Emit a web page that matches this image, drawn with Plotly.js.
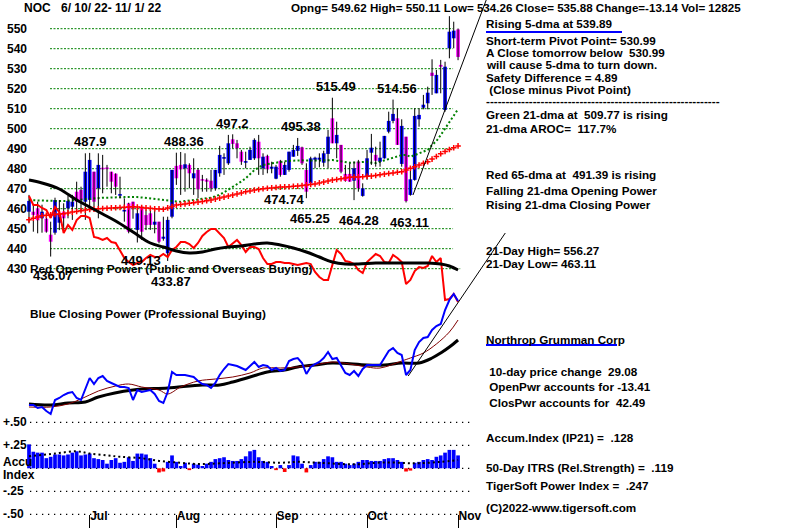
<!DOCTYPE html>
<html><head><meta charset="utf-8">
<script src="https://cdn.plot.ly/plotly-3.0.1.min.js"></script>
<style>html,body{margin:0;padding:0;background:#fff;overflow:hidden}#chart{width:800px;height:528px}</style>
</head><body><div id="chart"></div>
<script>
// ---------- DATA (trading-day index 0 = 6/10/22 ... 99 = 11/1/22) ----------
const dayIdx = Array.from({length:100},(_,i)=>i);
const monthTickIdx = [14,34,57,78,99];
const monthLabels = ['Jul','Aug','Sep','Oct','Nov'];
const priceTicks = [430,440,450,460,470,480,490,500,510,520,530,540,550];
const accTicks = [0.5,0.25,-0.25,-0.5];
const accTickText = ['+.50','+.25','-.25','-.50'];
const accGrid = [0.5,0.25,0,-0.25,-0.5];

const open = [458.5,458.5,460.2,455.2,455.0,447.0,448.0,453.0,458.5,460.2,
 461.0,468.5,469.4,463.5,464.4,478.5,470.2,480.5,480.2,478.5,
 477.5,466.5,458.6,462.7,463.5,449.4,461.0,456.8,457.7,452.0,
 453.5,445.0,437.7,456.0,481.4,481.9,480.2,481.9,475.2,479.4,
 474.5,474.5,474.0,470.2,477.7,485.0,482.7,494.7,492.7,488.5,
 483.0,484.4,485.2,493.5,480.2,486.4,480.0,475.0,483.9,476.9,
 479.4,486.0,488.9,490.7,479.4,472.7,484.5,484.5,483.0,487.4,
 505.2,492.7,491.9,477.4,477.4,474.0,483.5,466.4,476.0,488.0,
 486.9,483.5,485.2,498.5,503.9,505.2,482.4,496.0,466.9,474.4,
 504.7,510.5,512.7,528.0,517.7,531.9,509.4,540.2,545.2,549.62];
const high = [466.9,461.9,463.5,462.0,457.0,453.5,465.5,464.3,462.7,466.5,
 466.9,473.5,471.0,487.7,487.9,478.5,487.7,486.9,481.9,478.5,
 477.7,476.0,465.2,463.0,463.5,461.0,461.0,459.3,459.7,459.7,
 453.5,456.0,456.0,479.4,488.0,488.36,487.7,482.7,485.2,480.2,
 476.9,475.2,479.4,479.4,491.4,487.7,496.9,497.2,494.4,489.4,
 488.5,491.0,495.2,496.9,487.7,487.0,483.5,481.9,484.4,483.5,
 488.5,491.9,495.38,491.0,482.7,486.0,486.0,487.7,489.0,499.4,
 515.49,503.5,491.9,481.9,482.7,483.5,484.4,472.7,489.4,497.4,
 491.0,493.5,496.4,508.5,514.56,510.2,504.7,496.0,478.9,510.2,
 510.2,516.9,521.0,534.7,529.4,534.4,533.5,556.27,553.5,550.11];
const low = [452.7,448.5,447.7,448.0,448.0,436.07,447.0,449.3,449.3,455.2,
 454.4,458.5,458.5,454.4,458.5,461.0,455.2,467.7,471.0,467.7,
 466.9,465.2,453.5,447.7,455.0,443.1,444.4,449.3,449.4,447.7,
 442.7,444.0,433.87,455.2,471.9,466.9,468.5,470.2,466.9,465.2,
 468.5,468.5,468.5,469.0,476.0,476.9,481.9,490.2,485.2,481.9,
 480.2,484.4,484.4,476.9,476.9,477.7,477.7,474.74,476.0,476.9,
 478.5,486.0,486.4,481.9,465.25,472.7,480.2,480.7,481.0,480.2,
 492.7,485.2,477.7,473.5,473.5,464.28,468.5,466.0,474.4,481.9,
 481.0,481.0,485.0,497.7,502.7,491.9,481.0,463.11,466.5,474.0,
 501.0,509.7,509.7,516.9,517.7,517.7,508.5,535.2,540.2,534.26];
const close = [463.9,456.9,454.2,458.5,448.5,443.5,464.3,457.5,455.2,463.9,
 463.5,463.5,464.4,478.5,484.4,463.5,481.9,479.7,479.8,473.5,
 471.0,467.0,459.0,448.5,460.2,457.7,448.5,451.8,451.9,453.5,
 443.5,446.0,454.4,479.4,475.2,479.7,482.2,477.7,477.7,469.7,
 474.0,473.5,470.2,479.4,486.9,485.3,492.7,492.4,490.2,483.5,
 483.5,489.4,494.4,485.2,486.0,479.7,481.0,481.0,476.9,481.9,
 488.5,489.4,491.4,482.7,468.5,485.2,485.5,485.5,487.7,496.0,
 492.7,496.9,478.5,473.9,473.5,480.2,470.2,470.2,485.2,490.5,
 484.0,485.5,496.4,503.9,507.4,491.9,501.4,463.8,474.7,506.4,
 506.9,512.0,518.0,526.4,526.9,531.0,531.0,548.5,549.02,535.88];

// 21-day moving average (green dotted) and 65-day moving average (red crosses)
const ma21 = [464.3,464.2,464.0,463.9,463.8,463.8,463.8,463.8,463.8,464.0,
 464.2,464.5,464.7,464.9,465.1,465.3,465.5,465.5,465.5,465.5,
 465.5,465.6,465.8,465.9,466.0,465.8,465.6,465.4,465.2,465.0,
 464.8,464.5,464.3,463.9,463.6,463.5,463.8,464.1,464.5,464.7,
 465.0,465.2,465.5,466.2,467.0,468.2,469.5,470.8,472.0,473.6,
 475.2,477.2,479.3,480.6,481.8,482.3,482.7,483.1,483.5,483.7,
 483.9,484.1,484.3,484.2,484.1,484.0,484.0,484.1,484.2,484.3,
 484.3,484.0,483.7,483.3,483.0,483.1,483.2,483.4,483.5,483.0,
 482.8,483.5,484.2,484.9,485.6,486.2,486.8,486.9,486.0,486.8,
 487.7,488.5,489.4,491.8,493.8,496.8,500.2,503.5,506.8,509.77];
const ma65 = [454.5,455.2,455.8,456.5,456.7,456.9,457.1,457.3,457.5,457.9,
 458.3,458.6,459.0,459.3,459.6,459.8,460.0,460.1,460.2,460.4,
 460.5,460.6,460.7,460.9,461.0,460.8,460.6,460.4,460.2,460.0,
 459.9,459.7,460.4,461.1,461.8,462.1,462.4,462.7,463.0,463.3,
 463.6,464.0,464.3,464.8,465.3,465.8,466.3,466.8,467.4,467.9,
 468.5,468.9,469.3,469.6,470.0,470.2,470.4,470.6,470.8,470.9,
 471.0,471.2,471.3,471.6,471.9,472.1,472.4,472.9,473.3,473.8,
 474.3,474.6,475.0,475.3,475.7,475.8,475.9,476.0,476.2,476.3,
 476.6,477.0,477.3,477.6,477.9,478.2,478.5,479.3,480.2,481.0,
 481.8,482.7,483.5,484.8,486.1,487.5,488.6,489.6,490.5,491.39];

// Opening Power (red) and its moving average (black), Closing Power (blue) and its averages
const openPower = [166,161.5,161.5,160,159,155,160.5,158,147.5,151.5,
 149,154,156,156,155,145.5,145,144,145,143,
 142.5,139,135,133,131.5,132.5,133,135,136.5,135.5,
 135.5,137,135.5,139,140.5,143,143,142,140,142.5,
 146,148,149.5,149.5,147.5,145,140.5,142.5,144,141.5,
 138,140.5,140.5,139.5,135,132,132,133,133,132.5,
 132.5,132,131.5,132,132.5,132,128,125.5,124,124,
 131.5,139,137,133.5,133,132,129,127.5,133,135,
 137,136,133,132.5,136.5,135,133,122,124,128.5,
 130.5,130,131,136,133,135,114,114.5,117,113];
const opMaIdx = [0,3,7,11,14,17,20,24,28,31,34,37,40,43,46,49,52,55,58,61,64,67,70,73,76,80,84,88,92,95,97,99];
const opMa = [174,172.5,169.5,164,160.5,157,153.5,148,142.5,140.5,138.5,137.5,138,139.5,140.5,141,142,142.5,141.5,140,138,135.5,133,132,132,132.5,132.5,132.5,132.5,132,131,129];
const closePower = [61.5,61.5,60,60.5,58.5,57,64,65,66.5,67.5,
 68,65,64,70,75,72,75,76,73.5,72.5,
 71.5,70.5,70.5,70,64,69,68,68.5,69,67,
 63.5,62.5,68,78,76.5,76.5,76.5,76,75.5,73.5,
 72,71.5,70,72.5,76.5,79.5,82,81.5,81,80,
 79,81,83,80.5,81.5,81,79,80,78.5,79,
 83.5,84.5,85,82.5,77,80.5,82,83,85,88,
 84.5,85,81,77.5,76.5,78.5,76,79.5,81.5,81.5,
 81.5,81.5,85,88.5,90,87.5,86.5,76.5,79,89,
 93,95,95.5,99,101,102,109,114,117,113.5];
const cpMaIdx = [0,5,9,12,16,20,23,26,30,32,35,39,43,47,51,54,58,62,66,70,74,78,81,86,88,91,94,97,99];
const cpMa = [60.5,60.5,62,64.5,68.5,71,72,70.5,69,67,70.5,73.5,74.5,75.5,77.5,80,80,80.5,81.5,83,82,80.5,80,83.5,85,87.5,92,98,104];
const cpLongIdx = [0,5,9,13,16,24,32,40,44,47,51,55,59,62,66,70,78,82,86,90,93,95,97,99];
const cpLong = [62,61.5,62.5,63,65.5,69,70,71.5,71.5,73,75.5,78,79,80.5,81.5,82.5,81.5,81.5,82.5,82.5,85,87.5,90.5,94];

// Accumulation Index (IP21) and its average
const accum = [0.26,0.18,0.17,0.17,0.11,0.125,0.15,0.15,0.14,0.15,
 0.17,0.185,0.14,0.15,0.16,0.11,0.10,0.09,0.05,0.09,
 0.11,0.06,0.07,0.12,0.08,0.16,0.16,0.15,0.11,0.05,
 -0.045,-0.035,0.07,0.14,0.07,0.025,0.06,-0.02,0.05,0.04,
 0.025,0.05,0.07,0.10,0.11,0.12,0.09,0.08,0.08,0.10,
 0.13,0.185,0.20,0.12,0.08,0.07,0.025,-0.02,0.035,-0.04,
 0.035,0.14,0.13,0.05,-0.045,0.035,0.07,0.07,0.10,0.13,
 0.12,0.07,0.07,0.05,0.035,0.05,0.07,0.09,0.09,0.08,
 0.08,0.08,0.10,0.11,0.11,0.09,0.07,-0.035,-0.025,0.06,
 0.07,0.09,0.10,0.09,0.125,0.14,0.17,0.20,0.20,0.14];
const accMaIdx = [0,6,11,14,18,21,26,30,35,39,44,52,58,62,67,75,82,89,95,99];
const accMa = [0.13,0.16,0.185,0.16,0.14,0.125,0.11,0.08,0.06,0.046,0.054,0.07,0.06,0.07,0.06,0.043,0.064,0.054,0.07,0.09];

// Trend lines
const trendPriceIdx = [88.6,105.5];
const trendPriceVal = [466.85,564.35];
const trendPowerIdx = [87.5,109.9];
const trendPowerVal = [76,147.5];

// Price labels on highs / lows
const peakText = ['487.9','488.36','497.2','495.38','515.49','514.56','474.74','465.25','464.28','463.11','436.07','449.13','433.87'];
const peakIdx  = [14.1,35.8,46.85,62.8,70.85,84.9,58.85,64.85,76.15,87.7,5.55,25.85,32.8];
const peakVal  = [493.85,493.85,502.85,501.35,521.35,520.35,464.85,455.35,454.35,453.35,426.85,434.35,423.85];

// Right-hand text panel
const sideText = [
 'Rising 5-dma at 539.89',
 'Short-term Pivot Point= 530.99',
 'A Close tomorrow below\u00a0\u00a0530.99',
 'will cause 5-dma to turn down.',
 'Safety Difference = 4.89',
 '\u00a0(Close minus Pivot Point)',
 '------------------------------------------------------------',
 'Green 21-dma at\u00a0\u00a0509.77 is rising',
 '21-dma AROC=\u00a0\u00a0117.7%',
 'Red 65-dma at\u00a0\u00a0491.39 is rising',
 'Falling 21-dma Opening Power',
 'Rising 21-dma Closing Power',
 '21-Day High= 556.27',
 '21-Day Low= 463.11',
 'Northrop Grumman Corp',
 '\u00a010-day price change\u00a0\u00a029.08',
 '\u00a0OpenPwr accounts for -13.41',
 '\u00a0ClosPwr accounts for\u00a0\u00a042.49',
 'Accum.Index (IP21) =\u00a0\u00a0.128',
 '50-Day ITRS (Rel.Strength) =\u00a0\u00a0.119',
 'TigerSoft Power Index =\u00a0\u00a0.247',
 '(C)2022-www.tigersoft.com'];
const sideRowY = [24,40,52,64,77,89,100,114,128,174,190,205,250,263,339,371,386,402,437,467,485,507];

// ---------- BUILD ----------
const W = 800, H = 528;
const px = v => v / W, py = v => 1 - v / H;
const FONT = 'Liberation Sans, Arial, sans-serif';
const boldFont = (size) => ({family:FONT, size:size, color:'#000', weight:'bold'});

const wickX = [], wickY = [];
dayIdx.forEach(i => { wickX.push(i, i, null); wickY.push(low[i], high[i], null); });
const bodyBase = dayIdx.map(i => Math.min(open[i], close[i]));
const bodyLen = dayIdx.map(i => Math.max(Math.abs(close[i] - open[i]), 0.8));
const bodyCol = dayIdx.map(i => close[i] >= open[i] ? '#0000ff' : '#ff00ff');

const traces = [
 {type:'bar', x:dayIdx, y:accum, yaxis:'y3', width:0.85,
  marker:{color:accum.map(v => v >= 0 ? '#0000ff' : '#ff0000'), line:{width:0}}},
 {type:'scatter', mode:'lines', x:accMaIdx, y:accMa, yaxis:'y3', line:{color:'#000', width:2, dash:'2px,3px', shape:'spline'}},
 {type:'scatter', mode:'lines', x:dayIdx, y:openPower, yaxis:'y2', line:{color:'#ff0000', width:2}},
 {type:'scatter', mode:'lines', x:opMaIdx, y:opMa, yaxis:'y2', line:{color:'#000', width:3, shape:'spline'}},
 {type:'scatter', mode:'lines', x:cpLongIdx, y:cpLong, yaxis:'y2', line:{color:'#000', width:3, shape:'spline'}},
 {type:'scatter', mode:'lines', x:cpMaIdx, y:cpMa, yaxis:'y2', line:{color:'#800000', width:1, shape:'spline'}},
 {type:'scatter', mode:'lines', x:dayIdx, y:closePower, yaxis:'y2', line:{color:'#0000ff', width:2}},
 {type:'scatter', mode:'lines', x:trendPowerIdx, y:trendPowerVal, yaxis:'y2', line:{color:'#000', width:1}},
 {type:'scatter', mode:'lines', x:dayIdx, y:ma21, line:{color:'#008000', width:2, dash:'2px,2.3px'}},
 {type:'scatter', mode:'lines', x:wickX, y:wickY, line:{color:'#000', width:1}, connectgaps:false},
 {type:'bar', x:dayIdx, y:bodyLen, base:bodyBase, width:0.85, marker:{color:bodyCol, line:{width:0}}},
 {type:'scatter', mode:'markers', x:dayIdx, y:ma65, marker:{symbol:'cross-thin', size:4, color:'#ff0000', line:{color:'#ff0000', width:1.5}}},
 {type:'scatter', mode:'lines', x:trendPriceIdx, y:trendPriceVal, line:{color:'#000', width:1}}
];

const shapes = [];
priceTicks.forEach(t => shapes.push({type:'line', xref:'x', yref:'y', x0:4.85, x1:(t === 430 ? 99.5 : 97.85), y0:t, y1:t,
  line:{color:'#008000', width:1, dash:'2px,1.5px'}, layer:'below'}));
accGrid.forEach(t => shapes.push({type:'line', xref:'x', yref:'y3', x0:0.23, x1:102, y0:t, y1:t,
  line:{color:'#000', width:1.3, dash:'1.3px,4.7px'}, layer:'below'}));
shapes.push({type:'line', xref:'paper', yref:'paper', x0:px(486), x1:px(622), y0:py(32), y1:py(32), line:{color:'#0000ff', width:2}});
shapes.push({type:'line', xref:'paper', yref:'paper', x0:px(486), x1:px(617), y0:py(345), y1:py(345), line:{color:'#0000ff', width:2}});

const annotations = [];
const addText = (text, x, y, size) => annotations.push({text, x:px(x), y:py(y), xref:'paper', yref:'paper',
  xanchor:'left', yanchor:'middle', showarrow:false, font:boldFont(size || 12)});
addText('NOC', 22, 8);
addText('6/ 10/ 22- 11/ 1/ 22', 59, 8);
addText('Opng= 549.62 High= 550.11 Low= 534.26 Close= 535.88 Change=-13.14 Vol= 12825', 289, 8, 11.6);
sideText.forEach((t, k) => addText(t, 484, sideRowY[k], 11.7));
addText('Red Opening Power (Public and Overseas Buying)', 28, 269, 11.8);
addText('Blue Closing Power (Professional Buying)', 28, 314, 11.8);
addText('Accu', 1, 462);
addText('Index', 1, 475);
accTicks.forEach((t, k) => annotations.push({text:accTickText[k], x:px(1), y:t, xref:'paper', yref:'y3',
  xanchor:'left', yanchor:'middle', showarrow:false, font:boldFont(12)}));
peakText.forEach((t, k) => annotations.push({text:t, x:peakIdx[k], y:peakVal[k], xref:'x', yref:'y', showarrow:false,
  xanchor:'center', yanchor:'middle', font:boldFont(13)}));

const layout = {
 width:W, height:H, margin:{l:0, r:0, t:0, b:0}, paper_bgcolor:'#fff', plot_bgcolor:'#fff',
 showlegend:false, barmode:'overlay', hovermode:false,
 font:boldFont(12),
 xaxis:{range:[-6.69,177.9], showgrid:false, zeroline:false, showline:false,
  tickvals:monthTickIdx, ticktext:monthLabels, ticks:'inside', ticklen:13, tickcolor:'#000', tickwidth:1,
  ticklabelposition:'inside right', tickfont:boldFont(12)},
 yaxis:{range:[300.35,564.35], showgrid:false, zeroline:false, showline:false, ticks:'',
  tickvals:priceTicks, ticklabelposition:'inside', ticklabelstandoff:4, tickfont:boldFont(12)},
 yaxis2:{range:[0,264], overlaying:'y', visible:false},
 yaxis3:{range:[-0.649,5.09], overlaying:'y', side:'left', showgrid:false, zeroline:false, showline:false,
  ticks:'', showticklabels:false, tickvals:accTicks},
 shapes, annotations
};
Plotly.newPlot('chart', traces, layout, {staticPlot:true, displayModeBar:false});
</script></body></html>
